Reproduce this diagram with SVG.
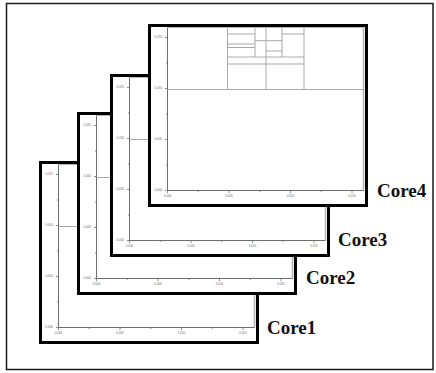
<svg xmlns="http://www.w3.org/2000/svg" width="436" height="373" viewBox="0 0 436 373">
  <style>
    .frame { fill: #fff; stroke: #1a1a1a; stroke-width: 1.5; }
    .panel { fill: #fff; stroke: #000; stroke-width: 3; }
    .box { fill: none; stroke: #b4b4b4; stroke-width: 1; }
    .edge { fill: none; stroke: #b4b4b4; stroke-width: 1.6; }
    .axis { fill: none; stroke: #6e6e6e; stroke-width: 1; }
    .tick { fill: none; stroke: #6e6e6e; stroke-width: 0.8; }
    .grid { fill: none; stroke: #a8a8a8; stroke-width: 1; }
    .tl { font-family: "Liberation Sans", Arial, sans-serif; font-size: 3px; fill: #666; }
    .ty { text-anchor: end; dominant-baseline: middle; }
    .tx { text-anchor: middle; }
    .core { font-family: "Liberation Serif", "Times New Roman", serif; font-size: 19px; font-weight: bold; fill: #111; }
  </style>
  <defs>
    <!-- shared axis frame: domain 0..0.016 on both axes -->
    <g id="axes">
      <path class="box" d="M19.5 3.5 H215.5"/>
      <path class="edge" d="M215.5 3.5 V166.5"/>
      <path class="axis" d="M19.5 3.5 V166.5 H215.5"/>
      <path class="tick" d="M17 166.5 H19.5 M17 115.5 H19.5 M17 64.5 H19.5 M17 13.5 H19.5 M18 141 H19.5 M18 90 H19.5 M18 39 H19.5"/>
      <path class="tick" d="M19.5 166.5 V169 M81 166.5 V169 M142.5 166.5 V169 M204 166.5 V169 M50.25 166.5 V168 M111.75 166.5 V168 M173.25 166.5 V168"/>
    </g>
  </defs>

  <rect class="frame" x="6.5" y="3.5" width="426.5" height="366"/>

  <g id="core1" transform="translate(39,161)">
    <rect class="panel" x="1.5" y="1.5" width="217" height="180"/>
    <use href="#axes"/>
    <path class="grid" d="M19.5 65.5 H215.5"/>
    <text class="tl ty" x="14" y="13.5">0.015</text>
    <text class="tl ty" x="14" y="64.5">0.010</text>
    <text class="tl ty" x="14" y="115.5">0.005</text>
    <text class="tl ty" x="14" y="166.5">0.000</text>
    <text class="tl tx" x="19.5" y="173">0.000</text>
    <text class="tl tx" x="81" y="173">0.005</text>
    <text class="tl tx" x="142.5" y="173">0.010</text>
    <text class="tl tx" x="204" y="173">0.015</text>
  </g>

  <g id="core2" transform="translate(77,112)">
    <rect class="panel" x="1.5" y="1.5" width="217" height="180"/>
    <use href="#axes"/>
    <path class="grid" d="M19.5 65.5 H215.5"/>
    <text class="tl ty" x="14" y="13.5">0.015</text>
    <text class="tl ty" x="14" y="64.5">0.010</text>
    <text class="tl ty" x="14" y="115.5">0.005</text>
    <text class="tl ty" x="14" y="166.5">0.000</text>
    <text class="tl tx" x="19.5" y="173">0.000</text>
    <text class="tl tx" x="81" y="173">0.005</text>
    <text class="tl tx" x="142.5" y="173">0.010</text>
    <text class="tl tx" x="204" y="173">0.015</text>
  </g>

  <g id="core3" transform="translate(110,74)">
    <rect class="panel" x="1.5" y="1.5" width="217" height="180"/>
    <use href="#axes"/>
    <path class="grid" d="M19.5 65.5 H215.5"/>
    <text class="tl ty" x="14" y="13.5">0.015</text>
    <text class="tl ty" x="14" y="64.5">0.010</text>
    <text class="tl ty" x="14" y="115.5">0.005</text>
    <text class="tl ty" x="14" y="166.5">0.000</text>
    <text class="tl tx" x="19.5" y="173">0.000</text>
    <text class="tl tx" x="81" y="173">0.005</text>
    <text class="tl tx" x="142.5" y="173">0.010</text>
    <text class="tl tx" x="204" y="173">0.015</text>
  </g>

  <g id="core4" transform="translate(148,24)">
    <rect class="panel" x="1.5" y="1.5" width="217" height="180"/>
    <use href="#axes"/>
    <path class="grid" d="M19.5 65.5 H215.5"/>
    <!-- partition cells in the upper band -->
    <path class="grid" d="M79.5 3.5 V65.5 M118 3.5 V65.5 M156 3.5 V65.5 M107 3.5 V33 M134 3.5 V33
                          M79.5 10 H107 M134 10 H156 M107 16.7 H134 M79.5 20 H107 M79.5 23.5 H107
                          M118 27 H134 M79.5 33 H156 M79.5 40 H156"/>
    <text class="tl ty" x="14" y="13.5">0.015</text>
    <text class="tl ty" x="14" y="64.5">0.010</text>
    <text class="tl ty" x="14" y="115.5">0.005</text>
    <text class="tl ty" x="14" y="166.5">0.000</text>
    <text class="tl tx" x="19.5" y="173">0.000</text>
    <text class="tl tx" x="81" y="173">0.005</text>
    <text class="tl tx" x="142.5" y="173">0.010</text>
    <text class="tl tx" x="204" y="173">0.015</text>
  </g>

  <g id="labels">
    <text class="core" x="267" y="334">Core1</text>
    <text class="core" x="306" y="284">Core2</text>
    <text class="core" x="338" y="246">Core3</text>
    <text class="core" x="377" y="197">Core4</text>
  </g>
</svg>
